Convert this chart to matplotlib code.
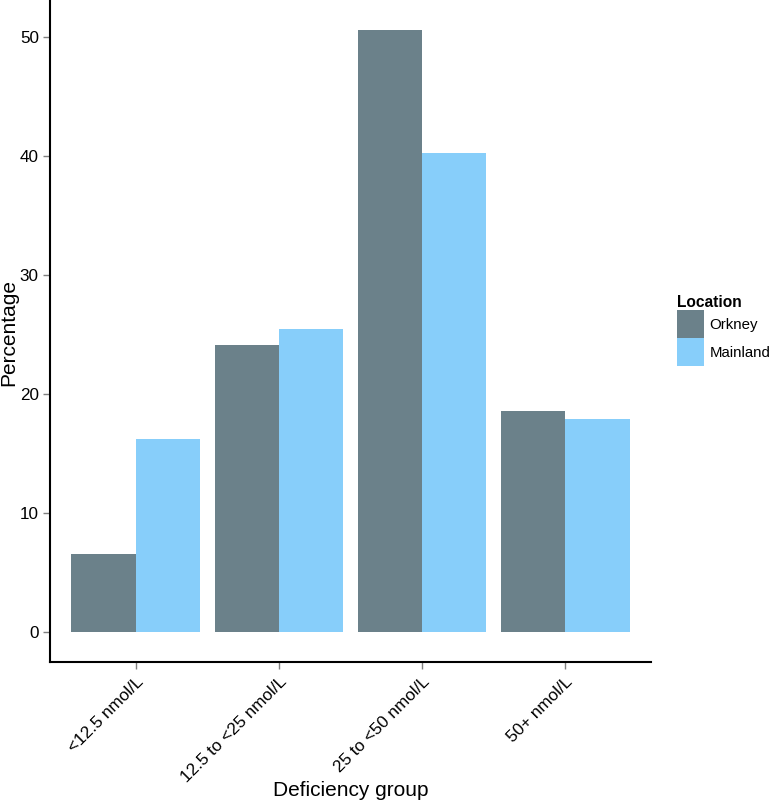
import matplotlib
matplotlib.use("Agg")
import matplotlib.pyplot as plt
import numpy as np

plt.rcParams['font.family'] = ['Liberation Sans', 'DejaVu Sans']

categories = ["<12.5 nmol/L", "12.5 to <25 nmol/L", "25 to <50 nmol/L", "50+ nmol/L"]
series_names = ["Orkney", "Mainland"]
orkney = [6.55, 24.1, 50.6, 18.6]
mainland = [16.2, 25.5, 40.3, 17.9]
colors = ["#6b818a", "#87cefa"]
yticks = [0, 10, 20, 30, 40, 50]

fig = plt.figure(figsize=(7.72, 8.0), dpi=100)
ax = fig.add_axes([50/772, (800-662)/800, (651-50)/772, 662/800])

x = np.arange(1, len(categories) + 1)
w = 0.45
ax.bar(x - w/2, orkney, width=w, color=colors[0], label=series_names[0], linewidth=0)
ax.bar(x + w/2, mainland, width=w, color=colors[1], label=series_names[1], linewidth=0)

ax.set_xlim(0.4, 4.6)
ymax = max(max(orkney), max(mainland))
ax.set_ylim(-0.05*ymax, ymax*1.05)
ax.set_xticks(x)
ax.set_xticklabels(categories, rotation=45, ha='right', va='top', rotation_mode='anchor', fontsize=12.3)
ax.set_yticks(yticks)
ax.set_yticklabels([str(t) for t in yticks], fontsize=12.3)
ax.tick_params(axis='both', length=5, width=1, color='#7f7f7f', labelcolor='black', pad=3)
ax.tick_params(axis='x', pad=4)

for s in ['top', 'right']:
    ax.spines[s].set_visible(False)
for s in ['left', 'bottom']:
    ax.spines[s].set_linewidth(1.5)
    ax.spines[s].set_color('black')

ax.set_xlabel("Deficiency group", fontsize=15)
ax.xaxis.set_label_coords(0.5, (662-781)/662)
ax.set_ylabel("Percentage", fontsize=15)
ax.yaxis.set_label_coords((18-50)/601, (662-333)/662)

leg = fig.legend(title="Location", loc='upper left', bbox_to_anchor=(664.5/772, 1 - 283/800),
                 frameon=False, fontsize=10.8, handlelength=1.86, handleheight=2.5,
                 labelspacing=0.0, handletextpad=0.33, borderpad=0.3, alignment='left',
                 title_fontproperties={'weight': 'bold', 'size': 11.2})

fig.savefig("out.png", dpi=100)
